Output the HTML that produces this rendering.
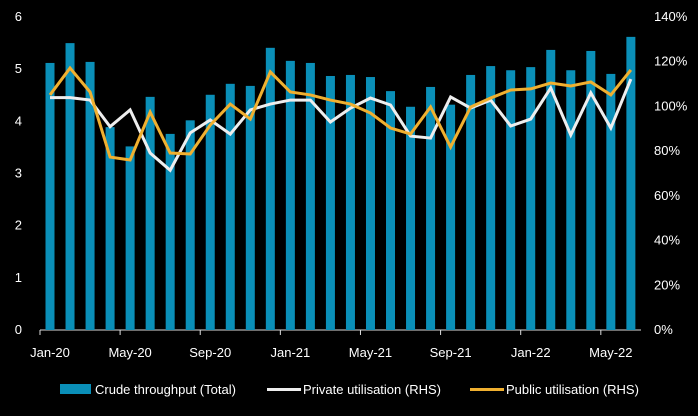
<!DOCTYPE html>
<html><head><meta charset="utf-8"><style>
html,body{margin:0;padding:0;background:#000;}
svg{display:block;font-family:"Liberation Sans",sans-serif;}
</style></head><body>
<svg id="chart" width="698" height="416" viewBox="0 0 698 416">
<g id="axes"></g>
<g id="bars"></g>
<g id="lines"></g>
<g id="legend">
<rect x="60" y="384" width="31" height="10" fill="#0a8fb8"/>
<text x="95" y="394" fill="#fff" font-size="13">Crude throughput (Total)</text>
<rect x="267" y="388" width="34" height="3" fill="#eeeeee"/>
<text x="303" y="394" fill="#fff" font-size="13">Private utilisation (RHS)</text>
<rect x="470" y="388" width="34" height="3" fill="#f0b030"/>
<text x="506" y="394" fill="#fff" font-size="13">Public utilisation (RHS)</text>
</g>
</svg>
<script>
const months = ["Jan-20","Feb-20","Mar-20","Apr-20","May-20","Jun-20","Jul-20","Aug-20","Sep-20","Oct-20","Nov-20","Dec-20","Jan-21","Feb-21","Mar-21","Apr-21","May-21","Jun-21","Jul-21","Aug-21","Sep-21","Oct-21","Nov-21","Dec-21","Jan-22","Feb-22","Mar-22","Apr-22","May-22","Jun-22"];
const crude = [5.1,5.48,5.12,3.87,3.5,4.45,3.74,4.0,4.49,4.7,4.66,5.39,5.14,5.1,4.85,4.87,4.83,4.56,4.26,4.64,4.3,4.87,5.04,4.96,5.02,5.35,4.96,5.33,4.89,5.6];
const privateUtil = [103.5,103.5,102.4,90.5,98,78.7,71,87.7,93.5,87.2,98,100.6,102.4,102.4,92.6,98.8,103.3,100.2,86.3,85.4,103.8,98.8,102.4,90.8,93.9,107.8,86.8,105.6,89.9,111.8];
const publicUtil = [104.7,116.7,106,76.9,75.6,97,78.7,78.3,91.2,100.6,93.9,115,106,104.7,102.4,100.6,96.6,89.9,87.2,99.3,81.4,99.3,103.3,106.9,107.4,110,108.7,110.5,104.7,115.9];
const leftTicks = [0,1,2,3,4,5,6];
const rightTicks = [0,20,40,60,80,100,120,140];
const xLabels = ["Jan-20","May-20","Sep-20","Jan-21","May-21","Sep-21","Jan-22","May-22"];

const NS="http://www.w3.org/2000/svg";
const plotTop=16, plotBot=329, x0=50, step=20.03;
const yL=v=>plotBot-(v/6)*(plotBot-plotTop);
const yR=v=>plotBot-(v/140)*(plotBot-plotTop);
const xI=i=>x0+i*step;
function mk(tag,attrs,parent){const e=document.createElementNS(NS,tag);for(const k in attrs)e.setAttribute(k,attrs[k]);parent.appendChild(e);return e;}
const axes=document.getElementById('axes'), barsG=document.getElementById('bars'), linesG=document.getElementById('lines');

leftTicks.forEach(t=>{const e=mk('text',{x:22,y:yL(t)+5,fill:'#fff','font-size':13,'text-anchor':'end'},axes);e.textContent=t;

});
rightTicks.forEach(t=>{const e=mk('text',{x:654,y:yR(t)+5,fill:'#fff','font-size':13},axes);e.textContent=t+'%';

});

crude.forEach((v,i)=>{const r=mk('rect',{x:xI(i)-4.5,y:yL(v),width:9,height:plotBot-yL(v)+1,fill:'#0a8fb8'},barsG);

});

const al=mk('line',{x1:40,x2:641,y1:plotBot+1,y2:plotBot+1,stroke:'#ddd','stroke-width':1},axes);


xLabels.forEach(l=>{const i=months.indexOf(l);const tx=xI(i)-step/2;
const tk=mk('line',{x1:tx,x2:tx,y1:plotBot+1,y2:plotBot+6,stroke:'#ddd'},axes);


const e=mk('text',{x:xI(i),y:357,fill:'#fff','font-size':13,'text-anchor':'middle'},axes);e.textContent=l;

});

function line(data,color,name){const p=mk('polyline',{points:data.map((v,i)=>xI(i)+','+yR(v)).join(' '),fill:'none',stroke:color,'stroke-width':3,'stroke-linejoin':'miter'},linesG);

}
line(privateUtil,'#eeeeee','private-utilisation-line');
line(publicUtil,'#f0b030','public-utilisation-line');
</script>
</body></html>
